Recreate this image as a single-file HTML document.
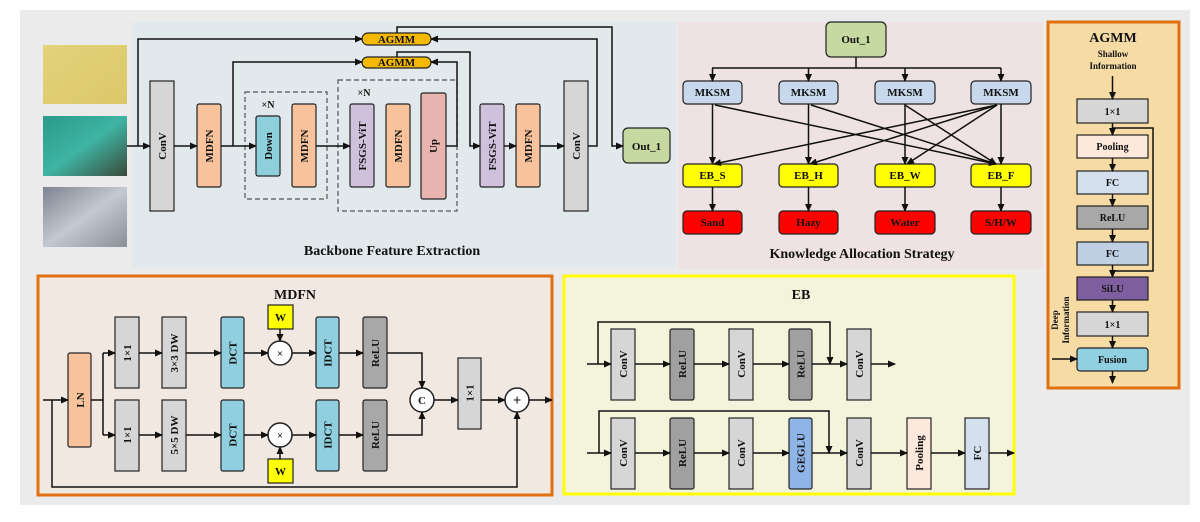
<!DOCTYPE html>
<html><head><meta charset="utf-8"><style>
html,body{margin:0;padding:0;background:#fff;}
svg{display:block;font-family:"Liberation Serif",serif;font-weight:bold;}
text{font-weight:bold;fill:#111;}
</style></head><body>
<svg width="1200" height="522" viewBox="0 0 1200 522" xmlns="http://www.w3.org/2000/svg">
<defs>
<marker id="a" markerWidth="8" markerHeight="8" refX="7" refY="4" orient="auto" markerUnits="userSpaceOnUse"><path d="M0,0.5 L8,4 L0,7.5 Z" fill="#111"/></marker>
<linearGradient id="g1" x1="0" y1="0" x2="1" y2="1"><stop offset="0" stop-color="#e3d27a"/><stop offset="1" stop-color="#dcc86a"/></linearGradient>
<linearGradient id="g2" x1="0" y1="0" x2="1" y2="1"><stop offset="0" stop-color="#2a9a8a"/><stop offset="0.5" stop-color="#3fb4a4"/><stop offset="1" stop-color="#3a4a3a"/></linearGradient>
<linearGradient id="g3" x1="0" y1="0" x2="1" y2="1"><stop offset="0" stop-color="#7d8390"/><stop offset="0.5" stop-color="#c4c8d0"/><stop offset="1" stop-color="#8a8e96"/></linearGradient>
</defs>
<rect x="20" y="10" width="1170" height="495" fill="#ebebeb"/>
<!-- backbone panel -->
<rect x="132" y="22" width="544" height="246" fill="#e1e9ec"/>
<rect x="678" y="22" width="365" height="247" fill="#efe2e2"/>
<!-- images -->
<rect x="43" y="45" width="84" height="59" fill="url(#g1)"/>
<rect x="43" y="116" width="84" height="60" fill="url(#g2)"/>
<rect x="43" y="187" width="84" height="60" fill="url(#g3)"/>
<g stroke="#222" stroke-width="1.2">
<rect x="150" y="81" width="24" height="130" fill="#d6d6d6"/>
<rect x="197" y="104" width="24" height="83" rx="2" fill="#f8c39c"/>
<rect x="256" y="116" width="24" height="60" rx="2" fill="#8ecfdc"/>
<rect x="292" y="104" width="24" height="83" rx="2" fill="#f8c39c"/>
<rect x="350" y="104" width="24" height="83" rx="2" fill="#cfc0dc"/>
<rect x="386" y="104" width="24" height="83" rx="2" fill="#f8c39c"/>
<rect x="421" y="93" width="25" height="106" rx="2" fill="#e8b4b0"/>
<rect x="480" y="104" width="24" height="83" rx="2" fill="#cfc0dc"/>
<rect x="516" y="104" width="24" height="83" rx="2" fill="#f8c39c"/>
<rect x="564" y="81" width="24" height="130" fill="#d6d6d6"/>
<rect x="623" y="128" width="47" height="35" rx="5" fill="#c5d9a0"/>
<rect x="362" y="33" width="69" height="12" rx="6" fill="#f5b800"/>
<rect x="362" y="57" width="69" height="11" rx="5.5" fill="#f5b800"/>
</g>
<g fill="none" stroke="#555" stroke-width="1.2" stroke-dasharray="5,3">
<rect x="245" y="92" width="82" height="107"/>
<rect x="338" y="80" width="119" height="131"/>
</g>
<g fill="none" stroke="#111" stroke-width="1.5">
<path d="M127 146 H150" marker-end="url(#a)"/>
<path d="M174 146 H197" marker-end="url(#a)"/>
<path d="M221 146 H256" marker-end="url(#a)"/>
<path d="M316 146 H350" marker-end="url(#a)"/>
<path d="M446 146 H457 V62 H431" marker-end="url(#a)"/>
<path d="M504 146 H516" marker-end="url(#a)"/>
<path d="M540 146 H564" marker-end="url(#a)"/>
<path d="M588 146 H597 V39 H431" marker-end="url(#a)"/>
<path d="M138 146 V39 H362" marker-end="url(#a)"/>
<path d="M233 146 V62 H362" marker-end="url(#a)"/>
<path d="M397 33 V27 H612 V146 H623" marker-end="url(#a)"/>
<path d="M397 57 V52 H470 V146 H480" marker-end="url(#a)"/>
</g>
<g font-size="11" text-anchor="middle">
<text x="396.5" y="43">AGMM</text><text x="396.5" y="66">AGMM</text>
<text x="646.5" y="150">Out_1</text>
<text x="268" y="108" font-size="10">×N</text><text x="364" y="96" font-size="10">×N</text>
<text transform="translate(162,146) rotate(-90)" dy="4">ConV</text>
<text transform="translate(209,146) rotate(-90)" dy="4">MDFN</text>
<text transform="translate(268,146) rotate(-90)" dy="4">Down</text>
<text transform="translate(304,146) rotate(-90)" dy="4">MDFN</text>
<text transform="translate(362,146) rotate(-90)" dy="4">FSGS-ViT</text>
<text transform="translate(398,146) rotate(-90)" dy="4">MDFN</text>
<text transform="translate(433,146) rotate(-90)" dy="4">Up</text>
<text transform="translate(492,146) rotate(-90)" dy="4">FSGS-ViT</text>
<text transform="translate(528,146) rotate(-90)" dy="4">MDFN</text>
<text transform="translate(576,146) rotate(-90)" dy="4">ConV</text>
<text x="392" y="255" font-size="14">Backbone Feature Extraction</text>
</g>
<!-- knowledge -->
<g stroke="#222" stroke-width="1.2">
<rect x="826" y="22" width="60" height="35" rx="5" fill="#c5d9a0"/>
<rect x="683" y="81" width="59" height="23" rx="4" fill="#c7d8ec"/>
<rect x="779" y="81" width="59" height="23" rx="4" fill="#c7d8ec"/>
<rect x="875" y="81" width="60" height="23" rx="4" fill="#c7d8ec"/>
<rect x="971" y="81" width="60" height="23" rx="4" fill="#c7d8ec"/>
<rect x="683" y="164" width="59" height="23" rx="4" fill="#ffff00"/>
<rect x="779" y="164" width="59" height="23" rx="4" fill="#ffff00"/>
<rect x="875" y="164" width="60" height="23" rx="4" fill="#ffff00"/>
<rect x="971" y="164" width="60" height="23" rx="4" fill="#ffff00"/>
<rect x="683" y="211" width="59" height="23" rx="4" fill="#ff0000"/>
<rect x="779" y="211" width="59" height="23" rx="4" fill="#ff0000"/>
<rect x="875" y="211" width="60" height="23" rx="4" fill="#ff0000"/>
<rect x="971" y="211" width="60" height="23" rx="4" fill="#ff0000"/>
</g>
<g fill="none" stroke="#111" stroke-width="1.5">
<path d="M856 57 V68 M712 68 H1001"/>
<path d="M712.5 68 V81" marker-end="url(#a)"/><path d="M808.5 68 V81" marker-end="url(#a)"/>
<path d="M905 68 V81" marker-end="url(#a)"/><path d="M1001 68 V81" marker-end="url(#a)"/>
<path d="M712.5 104 V164" marker-end="url(#a)"/><path d="M808.5 104 V164" marker-end="url(#a)"/>
<path d="M905 104 V164" marker-end="url(#a)"/><path d="M1001 104 V164" marker-end="url(#a)"/>
<path d="M715 105 L996 164" marker-end="url(#a)"/>
<path d="M811 105 L996 164" marker-end="url(#a)"/>
<path d="M905 105 L996 164" marker-end="url(#a)"/>
<path d="M997 105 L714 164" marker-end="url(#a)"/>
<path d="M997 105 L810 164" marker-end="url(#a)"/>
<path d="M997 105 L907 164" marker-end="url(#a)"/>
<path d="M712.5 187 V211" marker-end="url(#a)"/><path d="M808.5 187 V211" marker-end="url(#a)"/>
<path d="M905 187 V211" marker-end="url(#a)"/><path d="M1001 187 V211" marker-end="url(#a)"/>
</g>
<g font-size="11" text-anchor="middle">
<text x="856" y="43">Out_1</text>
<text x="712.5" y="96">MKSM</text><text x="808.5" y="96">MKSM</text><text x="905" y="96">MKSM</text><text x="1001" y="96">MKSM</text>
<text x="712.5" y="179">EB_S</text><text x="808.5" y="179">EB_H</text><text x="905" y="179">EB_W</text><text x="1001" y="179">EB_F</text>
<text x="712.5" y="226" fill="#300">Sand</text><text x="808.5" y="226">Hazy</text><text x="905" y="226">Water</text><text x="1001" y="226">S/H/W</text>
<text x="862" y="258" font-size="14">Knowledge Allocation Strategy</text>
</g>
<!-- AGMM panel -->
<rect x="1048" y="22" width="131" height="366" fill="#f7dba5" stroke="#e07010" stroke-width="3"/>
<g stroke="#222" stroke-width="1.2">
<rect x="1077" y="99" width="71" height="24" fill="#d6d6d6"/>
<rect x="1077" y="135" width="71" height="23" fill="#fde9dc"/>
<rect x="1077" y="171" width="71" height="23" fill="#d4e0ee"/>
<rect x="1077" y="206" width="71" height="23" fill="#a8a8a8"/>
<rect x="1077" y="242" width="71" height="23" fill="#c0d0e4"/>
<rect x="1077" y="277" width="71" height="23" fill="#7e5e9e"/>
<rect x="1077" y="312" width="71" height="24" fill="#d6d6d6"/>
<rect x="1077" y="348" width="71" height="23" rx="3" fill="#90d0e0"/>
</g>
<g fill="none" stroke="#111" stroke-width="1.5">
<path d="M1112.5 76 V99" marker-end="url(#a)"/>
<path d="M1112.5 123 V135" marker-end="url(#a)"/>
<path d="M1112.5 128 H1153 V271 H1112.5"/>
<path d="M1112.5 158 V171" marker-end="url(#a)"/>
<path d="M1112.5 194 V206" marker-end="url(#a)"/>
<path d="M1112.5 229 V242" marker-end="url(#a)"/>
<path d="M1112.5 265 V277" marker-end="url(#a)"/>
<path d="M1112.5 300 V312" marker-end="url(#a)"/>
<path d="M1112.5 336 V348" marker-end="url(#a)"/>
<path d="M1112.5 371 V383" marker-end="url(#a)"/>
<path d="M1052 359 H1077" marker-end="url(#a)"/>
</g>
<g font-size="10" text-anchor="middle">
<text x="1113" y="42" font-size="14">AGMM</text>
<text x="1113" y="57" font-size="9">Shallow</text><text x="1113" y="69" font-size="9">Information</text>
<text x="1112.5" y="115">1×1</text><text x="1112.5" y="150">Pooling</text><text x="1112.5" y="186">FC</text>
<text x="1112.5" y="221">ReLU</text><text x="1112.5" y="257">FC</text><text x="1112.5" y="292">SiLU</text>
<text x="1112.5" y="328">1×1</text><text x="1112.5" y="363">Fusion</text>
<text transform="translate(1058,320) rotate(-90)" font-size="9">Deep</text>
<text transform="translate(1069,320) rotate(-90)" font-size="9">Information</text>
</g>
<!-- MDFN -->
<rect x="38" y="276" width="514" height="219" fill="#f2e8e2" stroke="#e07010" stroke-width="3"/>
<g stroke="#222" stroke-width="1.2">
<rect x="68" y="353" width="23" height="94" rx="2" fill="#f8c39c"/>
<rect x="115" y="317" width="24" height="71" fill="#d6d6d6"/><rect x="115" y="400" width="24" height="71" fill="#d6d6d6"/>
<rect x="162" y="317" width="24" height="71" fill="#d6d6d6"/><rect x="162" y="400" width="24" height="71" fill="#d6d6d6"/>
<rect x="221" y="317" width="23" height="71" rx="2" fill="#90cfdf"/><rect x="221" y="400" width="23" height="71" rx="2" fill="#90cfdf"/>
<rect x="316" y="317" width="23" height="71" rx="2" fill="#90cfdf"/><rect x="316" y="400" width="23" height="71" rx="2" fill="#90cfdf"/>
<rect x="363" y="317" width="24" height="71" rx="2" fill="#a8a8a8"/><rect x="363" y="400" width="24" height="71" rx="2" fill="#a8a8a8"/>
<rect x="268" y="305" width="25" height="24" fill="#ffff00"/><rect x="268" y="459" width="25" height="24" fill="#ffff00"/>
<rect x="458" y="358" width="23" height="71" fill="#d6d6d6"/>
<circle cx="280" cy="353" r="12" fill="#fff" stroke-width="1.5"/><circle cx="280" cy="435" r="12" fill="#fff" stroke-width="1.5"/>
<circle cx="422" cy="400" r="12" fill="#fff" stroke-width="1.5"/><circle cx="517" cy="400" r="12" fill="#fff" stroke-width="1.5"/>
</g>
<g fill="none" stroke="#111" stroke-width="1.5">
<path d="M43 400 H68" marker-end="url(#a)"/>
<path d="M91 400 H103 M103 353 V435"/>
<path d="M103 353 H115" marker-end="url(#a)"/><path d="M103 435 H115" marker-end="url(#a)"/>
<path d="M139 353 H162" marker-end="url(#a)"/><path d="M139 435 H162" marker-end="url(#a)"/>
<path d="M186 353 H221" marker-end="url(#a)"/><path d="M186 435 H221" marker-end="url(#a)"/>
<path d="M244 353 H268" marker-end="url(#a)"/><path d="M244 435 H268" marker-end="url(#a)"/>
<path d="M292 353 H316" marker-end="url(#a)"/><path d="M292 435 H316" marker-end="url(#a)"/>
<path d="M339 353 H363" marker-end="url(#a)"/><path d="M339 435 H363" marker-end="url(#a)"/>
<path d="M280 329 V341" marker-end="url(#a)"/><path d="M280 459 V447" marker-end="url(#a)"/>
<path d="M387 353 H422 V388" marker-end="url(#a)"/><path d="M387 435 H422 V412" marker-end="url(#a)"/>
<path d="M434 400 H458" marker-end="url(#a)"/><path d="M481 400 H505" marker-end="url(#a)"/>
<path d="M529 400 H552" marker-end="url(#a)"/>
<path d="M52 400 V487 H517 V412" marker-end="url(#a)"/>
</g>
<g font-size="11" text-anchor="middle">
<text x="295" y="299" font-size="14">MDFN</text>
<text transform="translate(80,400) rotate(-90)" dy="4">LN</text>
<text transform="translate(127,353) rotate(-90)" dy="4">1×1</text><text transform="translate(127,435) rotate(-90)" dy="4">1×1</text>
<text transform="translate(174,353) rotate(-90)" dy="4">3×3 DW</text><text transform="translate(174,435) rotate(-90)" dy="4">5×5 DW</text>
<text transform="translate(232.5,353) rotate(-90)" dy="4">DCT</text><text transform="translate(232.5,435) rotate(-90)" dy="4">DCT</text>
<text transform="translate(327.5,353) rotate(-90)" dy="4">IDCT</text><text transform="translate(327.5,435) rotate(-90)" dy="4">IDCT</text>
<text transform="translate(375,353) rotate(-90)" dy="4">ReLU</text><text transform="translate(375,435) rotate(-90)" dy="4">ReLU</text>
<text transform="translate(469.5,393) rotate(-90)" dy="4">1×1</text>
<text x="280.5" y="321">W</text><text x="280.5" y="475">W</text>
<text x="280" y="357" font-size="10">×</text><text x="280" y="439" font-size="10">×</text>
<text x="422" y="404">C</text><text x="517" y="405" font-size="15">+</text>
</g>
<!-- EB -->
<rect x="564" y="276" width="450" height="218" fill="#f4f4dc" stroke="#ffff00" stroke-width="3"/>
<g stroke="#222" stroke-width="1.2">
<rect x="611" y="329" width="24" height="71" fill="#d6d6d6"/><rect x="670" y="329" width="24" height="71" rx="2" fill="#a0a0a0"/>
<rect x="729" y="329" width="24" height="71" fill="#d6d6d6"/><rect x="789" y="329" width="23" height="71" rx="2" fill="#a0a0a0"/>
<rect x="847" y="329" width="24" height="71" fill="#d6d6d6"/>
<rect x="611" y="418" width="24" height="71" fill="#d6d6d6"/><rect x="670" y="418" width="24" height="71" rx="2" fill="#a0a0a0"/>
<rect x="729" y="418" width="24" height="71" fill="#d6d6d6"/><rect x="789" y="418" width="23" height="71" rx="2" fill="#8fb4e6"/>
<rect x="847" y="418" width="24" height="71" fill="#d6d6d6"/><rect x="907" y="418" width="24" height="71" fill="#fde9dc"/>
<rect x="965" y="418" width="24" height="71" fill="#d4e0ee"/>
</g>
<g fill="none" stroke="#111" stroke-width="1.5">
<path d="M587 364 H611" marker-end="url(#a)"/><path d="M635 364 H670" marker-end="url(#a)"/>
<path d="M694 364 H729" marker-end="url(#a)"/><path d="M753 364 H789" marker-end="url(#a)"/>
<path d="M812 364 H847" marker-end="url(#a)"/><path d="M871 364 H895" marker-end="url(#a)"/>
<path d="M598 364 V322 H830 V364" marker-end="url(#a)"/>
<path d="M587 453 H611" marker-end="url(#a)"/><path d="M635 453 H670" marker-end="url(#a)"/>
<path d="M694 453 H729" marker-end="url(#a)"/><path d="M753 453 H789" marker-end="url(#a)"/>
<path d="M812 453 H847" marker-end="url(#a)"/><path d="M871 453 H907" marker-end="url(#a)"/>
<path d="M931 453 H965" marker-end="url(#a)"/><path d="M989 453 H1014" marker-end="url(#a)"/>
<path d="M599 453 V411 H829 V453" marker-end="url(#a)"/>
</g>
<g font-size="11" text-anchor="middle">
<text x="801" y="299" font-size="14">EB</text>
<text transform="translate(623,364) rotate(-90)" dy="4">ConV</text><text transform="translate(682,364) rotate(-90)" dy="4">ReLU</text>
<text transform="translate(741,364) rotate(-90)" dy="4">ConV</text><text transform="translate(800.5,364) rotate(-90)" dy="4">ReLU</text>
<text transform="translate(859,364) rotate(-90)" dy="4">ConV</text>
<text transform="translate(623,453) rotate(-90)" dy="4">ConV</text><text transform="translate(682,453) rotate(-90)" dy="4">ReLU</text>
<text transform="translate(741,453) rotate(-90)" dy="4">ConV</text><text transform="translate(800.5,453) rotate(-90)" dy="4">GEGLU</text>
<text transform="translate(859,453) rotate(-90)" dy="4">ConV</text><text transform="translate(919,453) rotate(-90)" dy="4">Pooling</text>
<text transform="translate(977,453) rotate(-90)" dy="4">FC</text>
</g>
</svg>
</body></html>
